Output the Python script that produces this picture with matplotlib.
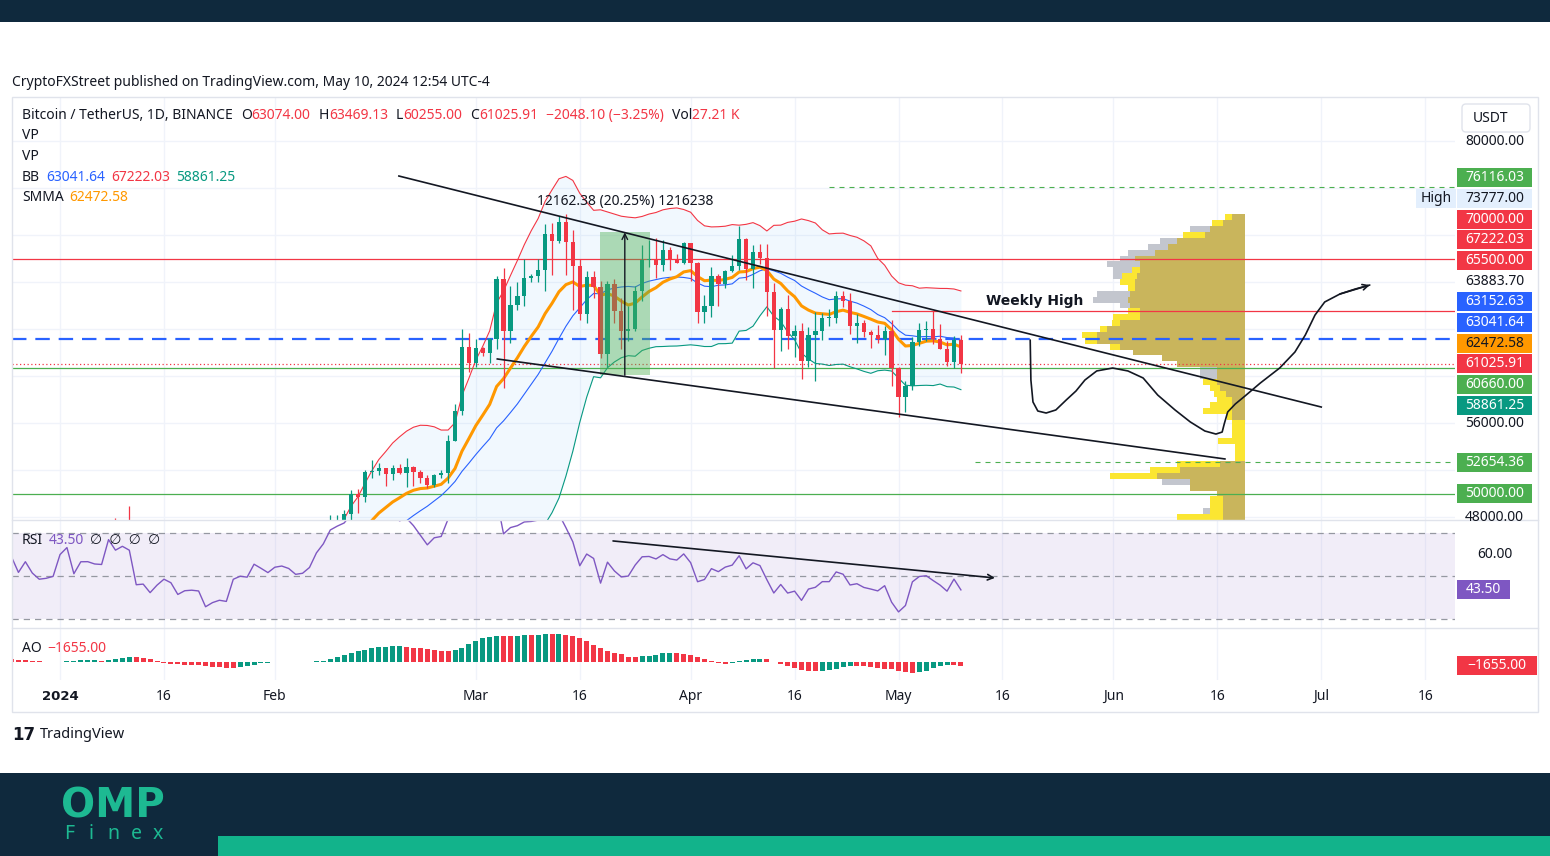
import numpy as np
import pandas as pd
import matplotlib
matplotlib.use("Agg")
import matplotlib.pyplot as plt
from matplotlib.patches import Rectangle, FancyBboxPatch

plt.rcParams['font.family'] = ['Noto Sans', 'DejaVu Sans']

W, H = 1550, 856

# --- daily BTC/USDT candles, starting 2023-12-01 ---
start_date = "2023-12-01"
opens = [
    37720, 38690, 39470, 39980, 41990, 44080, 43770, 43290, 44170, 43710, 43790, 41240, 41450, 42890, 43020, 41940,
    42260, 41370, 42660, 42270, 43650, 43860, 43990, 43720, 43010, 43580, 42510, 43440, 42580, 42070, 42140,
    42280, 44180, 44950, 42850, 44150, 44160, 43970, 43930, 46970, 46110, 46650, 46340, 42780, 42850, 41730, 42510,
    43150, 42740, 41260, 41620, 41670, 41580, 39550, 39890, 40080, 39940, 41820, 42120, 42030, 43300, 42950,
    42580, 43080, 43190, 43010, 42580, 42660, 43090, 44340, 45290, 47130, 47750, 48290, 49960, 49700, 51790,
    51910, 52130, 51640, 52140, 51780, 52260, 51850, 51300, 50730, 51570, 51730, 54480, 57040, 62430,
    61130, 62390, 61990, 63110, 68240, 63790, 66070, 66810, 68300, 68500, 69020, 72100, 71460, 73070, 71390, 69400,
    65300, 68390, 67550, 61910, 67850, 65500, 63800, 64040, 67210, 69880, 69990, 69450, 70740, 69890, 69650,
    71280, 69650, 65460, 65960, 68490, 67840, 68900, 69360, 71620, 69140, 70580, 70060, 67190, 63920, 65660,
    63420, 63790, 61280, 63470, 63820, 64940, 64940, 66840, 66410, 64280, 64500, 63770, 63460, 63120, 63840,
    60640, 58250, 59120, 62890, 63890, 64030, 63160, 62330, 61190, 63074,
]
highs = [
    38999, 39700, 40000, 42420, 44490, 44300, 44050, 44700, 44360, 44040, 43800, 42050, 43430, 43400, 43090, 42720,
    42430, 42760, 43500, 44280, 44240, 44400, 44020, 43950, 43800, 43600, 43680, 43800, 43130, 42900, 42900,
    44190, 45880, 45500, 44730, 44340, 44230, 44500, 47250, 47890, 47700, 48970, 46500, 43260, 43080, 43400, 43580,
    43200, 42930, 42200, 41870, 41890, 41690, 40130, 40560, 40300, 42210, 42200, 42840, 43310, 43880, 43740,
    43290, 43490, 43380, 43120, 43530, 43400, 44400, 45600, 48200, 48170, 48590, 50330, 50370, 52040, 52820,
    52580, 52180, 52390, 52490, 52990, 52370, 52000, 51550, 51680, 51960, 54940, 57580, 64000, 63680,
    63170, 62430, 63230, 68500, 69170, 67640, 68030, 69990, 68700, 69990, 72900, 73000, 73650, 73777, 72420, 70000,
    68920, 68920, 68100, 68100, 68240, 66650, 65980, 67620, 71150, 71560, 71770, 71550, 70950, 70350, 71370,
    71290, 69680, 66900, 69290, 68720, 69000, 70330, 72800, 71760, 71170, 71260, 71230, 67940, 65840, 66870,
    64360, 64490, 64130, 65450, 65390, 65700, 67230, 67200, 67080, 65280, 64790, 63920, 64350, 64230, 64740,
    60780, 59600, 63330, 64500, 64650, 65500, 64390, 62990, 63400, 63469.13,
]
lows = [
    37630, 38650, 39290, 39980, 41420, 43340, 42820, 43080, 43580, 43550, 40220, 40680, 40600, 41420, 41660, 41680,
    41250, 40530, 41800, 42180, 43330, 43400, 43580, 42750, 42720, 41620, 42100, 42300, 41300, 41520, 41970,
    42180, 44150, 40750, 42620, 42630, 43500, 43590, 43180, 44300, 44500, 45600, 41500, 42440, 41720, 41720, 42050,
    42200, 40680, 40280, 41450, 41500, 39430, 38560, 39490, 39260, 39820, 41390, 41620, 41800, 42690, 42280,
    41880, 42580, 42870, 42220, 42260, 42580, 42780, 44330, 45240, 46800, 47560, 47720, 48300, 49270, 51330,
    51580, 50620, 51170, 51680, 50520, 50630, 50930, 50500, 50580, 51280, 50900, 54450, 56690, 60360,
    60780, 61660, 61110, 62300, 59000, 62800, 65600, 66000, 68030, 68030, 67200, 68620, 71330, 68560, 65630, 64780,
    64520, 66600, 61500, 60780, 64530, 62260, 63000, 63800, 66380, 69250, 68380, 68900, 69000, 69580, 69560,
    68060, 64540, 64490, 65060, 66000, 67450, 68860, 69040, 68210, 67520, 69560, 65090, 60660, 62130, 62300,
    61620, 59770, 60800, 59600, 63090, 64240, 64500, 65850, 63600, 62790, 63320, 62390, 62800, 61800, 59190,
    56550, 56940, 58810, 62580, 62950, 62700, 62280, 60890, 60650, 60255,
]
closes = [
    38690, 39470, 39980, 41990, 44080, 43770, 43290, 44170, 43710, 43790, 41240, 41450, 42890, 43020, 41940, 42260,
    41370, 42660, 42270, 43650, 43860, 43990, 43720, 43010, 43580, 42510, 43440, 42580, 42070, 42140, 42280,
    44180, 44950, 42850, 44150, 44160, 43970, 43930, 46970, 46110, 46650, 46340, 42780, 42850, 41730, 42510, 43150,
    42740, 41260, 41620, 41670, 41580, 39550, 39890, 40080, 39940, 41820, 42120, 42030, 43300, 42950, 42580,
    43080, 43190, 43010, 42580, 42660, 43090, 44340, 45290, 47130, 47750, 48290, 49960, 49700, 51790, 51910,
    52130, 51640, 52140, 51780, 52260, 51850, 51300, 50730, 51570, 51730, 54480, 57040, 62430, 61130,
    62390, 61990, 63110, 68240, 63790, 66070, 66810, 68300, 68500, 69020, 72100, 71460, 73070, 71390, 69400, 65300,
    68390, 67550, 61910, 67850, 65500, 63800, 64040, 67210, 69880, 69990, 69450, 70740, 69890, 69650, 71280,
    69650, 65460, 65960, 68490, 67840, 68900, 69360, 71620, 69140, 70580, 70060, 67190, 63920, 65660, 63420,
    63790, 61280, 63470, 63820, 64940, 64940, 66840, 66410, 64280, 64500, 63770, 63460, 63120, 63840, 60640,
    58250, 59120, 62890, 63890, 64030, 63160, 62330, 61190, 63070, 61025.91,
]

# --- scales / ticks ---
price_ticks = [48000, 52000, 56000, 60000, 64000, 68000, 72000, 76000, 80000]
date_ticks = ["2024-01-01", "2024-01-16", "2024-02-01", "2024-03-01", "2024-03-16", "2024-04-01", "2024-04-16",
              "2024-05-01", "2024-05-16", "2024-06-01", "2024-06-16", "2024-07-01", "2024-07-16"]
date_labels = ["2024", "16", "Feb", "Mar", "16", "Apr", "16", "May", "16", "Jun", "16", "Jul", "16"]

# --- volume profile rows (row bottom price, relative volumes) ---
vp_prices = [47750, 48250, 48750, 49250, 49750, 50250, 50750, 51250, 51750, 52250, 52750, 53250, 53750,
             54250, 54750, 55250, 55750, 56250, 56750, 57250, 57750, 58250, 58750, 59250, 59750, 60250,
             60750, 61250, 61750, 62250, 62750, 63250, 63750, 64250, 64750, 65250, 65750, 66250, 66750,
             67250, 67750, 68250, 68750, 69250, 69750, 70250, 70750, 71250, 71750, 72250, 72750, 73250]
vp_gray = [22, 42, 22, 22, 28, 55, 83, 83, 65, 25, 0, 0, 0, 0, 0, 0, 0, 13, 13, 13, 13, 19, 25, 28,
           45, 45, 68, 83, 112, 125, 148, 148, 138, 125, 105, 105, 125, 152, 148, 110,
           110, 132, 132, 138, 125, 117, 97, 85, 55, 55, 22, 13]
vp_yellow = [68, 35, 35, 35, 28, 55, 55, 135, 95, 68, 10, 10, 10, 27, 13, 13, 13, 18, 42, 35, 28, 31, 35, 42,
             28, 28, 68, 83, 112, 135, 160, 163, 145, 133, 132, 117, 115, 117, 115, 117,
             125, 123, 113, 105, 110, 90, 77, 68, 62, 35, 33, 20]
vp_olive = [22, 22, 22, 22, 28, 55, 55, 88, 65, 25, 0, 0, 0, 0, 0, 0, 0, 13, 13, 13, 13, 19, 25, 28,
            28, 28, 68, 83, 112, 125, 148, 148, 138, 125, 105, 105, 115, 117, 115, 110,
            110, 108, 105, 105, 110, 90, 77, 68, 40, 35, 22, 13]
vp_anchor_date = "2024-06-20"

# --- drawings (days from 2024-01-01, price) ---
upper_line = ([48.9, 182.0], [77020, 57360])
lower_line = ([63.1, 168.1], [61450, 52940])
rsi_line = ([79.8, 134.9], [66.3, 49.1])
measure_days = [77.9, 85.1, 81.5]
measure_prices = [60060, 72222.38]
proj_days = [140.0, 140.1, 140.4, 141.1, 142.3, 143.7, 145.2, 146.6, 147.9, 149.6, 151.9, 154.1, 156.3, 158.4,
             160.9, 163.1, 165.2, 166.8, 167.7, 168.0, 168.5, 169.6, 171.0, 173.2, 176.0, 178.2, 179.7,
             181.1, 182.5, 184.7, 186.9, 189.0]
proj_prices = [63060, 59660, 57790, 57020, 56850, 57110, 57960, 58720, 59660, 60430, 60680, 60430, 59830, 58380,
               57110, 56090, 55320, 55060, 55230, 55920, 56940, 57620, 58300, 59400, 60680, 62040, 63490,
               65190, 66300, 66980, 67400, 67740]
weekly_high = 65500
weekly_high_start = "2024-04-30"

RED, GREEN, BLUE, TEAL, ORANGE, PURPLE = '#f23645', '#4caf50', '#2962ff', '#089981', '#ff9800', '#7e57c2'
DARK = '#131722'
GRID = '#f0f3fa'

# level lines: price, color, style, start date (None = whole chart)
levels = [
    (70000, RED, '-', None),
    (weekly_high, RED, '-', weekly_high_start),
    (63152.63, BLUE, 'dash', None),
    (61025.91, RED, 'dot', None),
    (60660, GREEN, '-', None),
    (76116.03, GREEN, 'thin', "2024-04-21"),
    (52654.36, GREEN, 'thin', "2024-05-12"),
    (50000, GREEN, '-', None),
]

# --- indicators from the candles ---
jan1 = pd.Timestamp("2024-01-01")
dates = pd.date_range(start_date, periods=len(closes), freq="D")
days = (dates - jan1).days.to_numpy().astype(float)
o, h, l, c = map(np.array, (opens, highs, lows, closes))
cs = pd.Series(c)
bb_mid = cs.rolling(20).mean()
bb_sd = cs.rolling(20).std(ddof=0)
bb_up, bb_lo = bb_mid + 2 * bb_sd, bb_mid - 2 * bb_sd
smma = np.full(len(c), np.nan)
smma[6] = c[:7].mean()
for i in range(7, len(c)):
    smma[i] = (smma[i - 1] * 6 + c[i]) / 7
delta = cs.diff().fillna(0)
avg_g = delta.clip(lower=0).ewm(alpha=1 / 14, adjust=False).mean()
avg_l = (-delta.clip(upper=0)).ewm(alpha=1 / 14, adjust=False).mean()
rsi = 100 - 100 / (1 + avg_g / avg_l)
hl2 = pd.Series((h + l) / 2)
ao = (hl2.rolling(5, min_periods=1).mean() - hl2.rolling(34, min_periods=1).mean()).to_numpy()

tick_days = (pd.to_datetime(date_ticks) - jan1).days.to_numpy()

# --- figure ---
fig = plt.figure(figsize=(W / 100, H / 100), dpi=100)


def px_rect(x0, y0, x1, y1):
    return [x0 / W, 1 - y1 / H, (x1 - x0) / W, (y1 - y0) / H]


ax = fig.add_axes(px_rect(12, 97, 1455, 520))
ax_rsi = fig.add_axes(px_rect(12, 520, 1455, 628))
ax_ao = fig.add_axes(px_rect(12, 628, 1455, 680))
x_view = (-6.93, 201.3)
for a in (ax, ax_rsi, ax_ao):
    a.set_xlim(*x_view)
    a.set_xticks([])
    a.set_yticks([])
    for s in a.spines.values():
        s.set_visible(False)
    for d in tick_days:
        a.axvline(d, color=GRID, lw=1, zorder=0)
ax.set_ylim(47745, 83745)
ax_rsi.set_ylim(25.8, 76.05)
ax_ao.set_ylim(-8130, 15370)

for p in price_ticks:
    ax.axhline(p, color=GRID, lw=1, zorder=0)

# bollinger fill
ax.fill_between(days, bb_lo, bb_up, color='#2196f3', alpha=0.06, lw=0, zorder=1)

# volume profile
px_per_day = ax.transData.transform((1, 0))[0] - ax.transData.transform((0, 0))[0]
vp_anchor = (pd.Timestamp(vp_anchor_date) - jan1).days
for vals, col in ((vp_gray, '#c3c6ce'), (vp_yellow, '#fbe632'), (vp_olive, '#c9b55c')):
    ax.barh(vp_prices, -np.array(vals, float) / px_per_day, left=vp_anchor, height=500,
            align='edge', color=col, lw=0, zorder=1.5)

for price, col, style, start in levels:
    x0 = x_view[0] if start is None else (pd.Timestamp(start) - jan1).days
    kw = dict(color=col, zorder=2)
    if style == 'dash':
        kw.update(lw=1.6, linestyle=(0, (6.5, 4)))
    elif style == 'dot':
        kw.update(lw=0.9, linestyle=(0, (1, 2)))
    elif style == 'thin':
        kw.update(lw=0.8, linestyle=(0, (4.5, 4.5)))
    else:
        kw.update(lw=0.9)
    ax.plot([x0, x_view[1]], [price, price], **kw)

ax.plot(days, bb_up, color=RED, lw=0.8, zorder=3)
ax.plot(days, bb_lo, color=TEAL, lw=0.8, zorder=3)
ax.plot(days, bb_mid, color=BLUE, lw=0.8, zorder=3)
ax.plot(days, smma, color=ORANGE, lw=2.2, zorder=3.2)

# candles
up = c >= o
ccol = np.where(up, TEAL, RED)
ax.vlines(days, l, h, colors=ccol, lw=0.9, zorder=4)
ax.bar(days, np.maximum(np.abs(c - o), 40), bottom=np.minimum(o, c), width=0.62, color=ccol, lw=0, zorder=4.1)

# measurement box
ax.add_patch(Rectangle((measure_days[0], measure_prices[0]), measure_days[1] - measure_days[0],
                       measure_prices[1] - measure_prices[0], fc=GREEN, alpha=0.42, lw=0, zorder=4.5))
ax.annotate('', xy=(measure_days[2], measure_prices[1]), xytext=(measure_days[2], measure_prices[0]),
            arrowprops=dict(arrowstyle='->', color=DARK, lw=1, shrinkA=0, shrinkB=0), zorder=5)
ax.text(measure_days[2], measure_prices[1] + 2590, "12162.38 (20.25%) 1216238", ha='center', va='center',
        fontsize=10, color=DARK, zorder=6)

# trend lines and projection
ax.plot(*upper_line, color=DARK, lw=1.2, zorder=5)
ax.plot(*lower_line, color=DARK, lw=1.2, zorder=5)
ax.plot(proj_days, proj_prices, color=DARK, lw=1.2, zorder=5, solid_capstyle='round')
ax.annotate('', xy=(proj_days[-1], proj_prices[-1]), xytext=(proj_days[-3], proj_prices[-3]),
            arrowprops=dict(arrowstyle='->', color=DARK, lw=1.2, shrinkA=0, shrinkB=0), zorder=5)
wh_day = (pd.Timestamp(weekly_high_start) - jan1).days
ax.text(wh_day + 20.6, weekly_high + 880, "Weekly High", ha='center', va='center', fontsize=10,
        fontweight='bold', color=DARK, zorder=6, family=['DejaVu Sans'])

# RSI pane
ax_rsi.axhspan(30, 70, color=PURPLE, alpha=0.1, lw=0, zorder=0.5)
for lvl in (70, 50, 30):
    ax_rsi.axhline(lvl, color='#9598a1', lw=0.9, linestyle=(0, (5, 4)), zorder=1)
ax_rsi.plot(days, rsi, color=PURPLE, lw=1, zorder=3)
ax_rsi.annotate('', xy=(rsi_line[0][1], rsi_line[1][1]), xytext=(rsi_line[0][0], rsi_line[1][0]),
                arrowprops=dict(arrowstyle='->', color=DARK, lw=1.2, shrinkA=0, shrinkB=0), zorder=4)

# AO pane
ao_col = [TEAL] + [TEAL if ao[i] >= ao[i - 1] else RED for i in range(1, len(ao))]
ax_ao.bar(days, ao, width=0.72, color=ao_col, lw=0, zorder=3)

# --- overlay for page decoration, scales and legends ---
lay = fig.add_axes([0, 0, 1, 1], zorder=10)
lay.set_xlim(0, W)
lay.set_ylim(H, 0)
lay.axis('off')
lay.patch.set_alpha(0)
renderer = fig.canvas.get_renderer()

NAVY = '#0f293d'
lay.add_patch(Rectangle((0, 0), W, 22, fc=NAVY, lw=0))
lay.add_patch(Rectangle((0, 773), W, H - 773, fc=NAVY, lw=0))
lay.add_patch(Rectangle((218, 836), W - 218, 20, fc='#12b38b', lw=0))
lay.text(61, 806, "OMP", fontsize=29, fontweight='heavy', color='#1db992', va='center', ha='left',
         family=['DejaVu Sans'])
for k, ch in enumerate("Finex"):
    lay.text(69 + k * 22.3, 834, ch, fontsize=14, color='#1db992', va='center', ha='center')

lay.add_patch(Rectangle((12, 97), 1526, 615, fc='none', ec='#e0e3eb', lw=1))
for yy in (520, 628):
    lay.plot([12, 1538], [yy, yy], color='#e0e3eb', lw=1)

lay.text(12, 82, "CryptoFXStreet published on TradingView.com, May 10, 2024 12:54 UTC-4", fontsize=10,
         color=DARK, va='center', ha='left')
lay.text(12, 735, "17", fontsize=12, fontweight='heavy', color=DARK, va='center', ha='left', family=['DejaVu Sans'])
lay.text(40, 735, "TradingView", fontsize=10.5, color=DARK, va='center', ha='left')


def multicolor(x, y, parts, size=10):
    for s, col, gap in parts:
        t = lay.text(x, y, s, color=col, fontsize=size, va='center', ha='left')
        x += t.get_window_extent(renderer).width + gap
    return x


multicolor(22, 115, [("Bitcoin / TetherUS, 1D, BINANCE", DARK, 8), ("O", DARK, 0), ("63074.00", RED, 8),
                     ("H", DARK, 0), ("63469.13", RED, 8), ("L", DARK, 0), ("60255.00", RED, 8),
                     ("C", DARK, 0), ("61025.91", RED, 8), ("\u22122048.10 (\u22123.25%)", RED, 8),
                     ("Vol", DARK, 0), ("27.21 K", RED, 0)])
multicolor(22, 135, [("VP", DARK, 0)])
multicolor(22, 156, [("VP", DARK, 0)])
multicolor(22, 177, [("BB", DARK, 6), ("63041.64", BLUE, 6), ("67222.03", RED, 6), ("58861.25", TEAL, 0)])
multicolor(22, 197, [("SMMA", DARK, 6), ("62472.58", ORANGE, 0)])
multicolor(22, 540, [("RSI", DARK, 6), ("43.50", PURPLE, 6), ("\u2205  \u2205  \u2205  \u2205", DARK, 0)])
multicolor(22, 648, [("AO", DARK, 6), ("\u22121655.00", RED, 0)])

# time axis labels
for d, lab in zip(tick_days, date_labels):
    xp = ax.transData.transform((d, 0))[0]
    if lab == "2024":
        lay.text(xp, 696, lab, fontsize=9.5, color=DARK, ha='center', va='center', fontweight='bold',
                 family=['DejaVu Sans'])
    else:
        lay.text(xp, 696, lab, fontsize=10, color=DARK, ha='center', va='center')


def to_px(axis, v):
    return H - axis.transData.transform((0, v))[1]


# price scale badges, stacked around the last price like the platform does
badges = [
    (76116.03, GREEN, 'white'), (73777.00, '#e3effd', DARK), (70000.00, RED, 'white'),
    (67222.03, RED, 'white'), (65500.00, RED, 'white'), (63883.70, None, DARK),
    (63152.63, BLUE, 'white'), (63041.64, BLUE, 'white'), (62472.58, ORANGE, DARK),
    (61025.91, RED, 'white'), (60660.00, GREEN, 'white'), (58861.25, TEAL, 'white'),
    (52654.36, GREEN, 'white'), (50000.00, GREEN, 'white'),
]
step = 20.7
last = 61025.91
ys = {}
ys[last] = to_px(ax, last)
prev = ys[last]
for p, _, _ in sorted([b for b in badges if b[0] > last], key=lambda b: b[0]):
    prev = min(to_px(ax, p), prev - step)
    ys[p] = prev
prev = ys[last]
for p, _, _ in sorted([b for b in badges if b[0] < last], key=lambda b: -b[0]):
    prev = max(to_px(ax, p), prev + step)
    ys[p] = prev

clip = Rectangle((1455, 97), 83, 423, transform=lay.transData)
for p in price_ticks:
    yp = to_px(ax, p)
    if min(abs(yp - v) for v in ys.values()) > 12:
        t = lay.text(1494.5, yp, f"{p:.2f}", fontsize=10, color=DARK, ha='center', va='center')
        t.set_clip_path(clip)

for p, fc, tc in badges:
    yp = ys[p]
    if fc is not None:
        lay.add_patch(Rectangle((1457, yp - 9.5), 75, 19, fc=fc, lw=0))
    lay.text(1494.5, yp, f"{p:.2f}", fontsize=10, color=tc, ha='center', va='center')
lay.add_patch(Rectangle((1416, ys[73777.00] - 9.5), 40, 19, fc='#e3effd', lw=0))
lay.text(1436, ys[73777.00], "High", fontsize=10, color=DARK, ha='center', va='center')

lay.add_patch(FancyBboxPatch((1462, 104), 68, 28, boxstyle='round,pad=0,rounding_size=4',
                             fc='white', ec='#e0e3eb', lw=1))
lay.text(1490, 118, "USDT", fontsize=10, color=DARK, ha='center', va='center')

# RSI scale (40.00 sits under the value badge)
lay.text(1494.5, to_px(ax_rsi, 60), "60.00", fontsize=10, color=DARK, ha='center', va='center')
ry = to_px(ax_rsi, rsi.iloc[-1])
lay.add_patch(Rectangle((1457, ry - 9.5), 53, 19, fc=PURPLE, lw=0))
lay.text(1483.5, ry, "43.50", fontsize=10, color='white', ha='center', va='center')

# AO scale
ay = to_px(ax_ao, ao[-1])
lay.add_patch(Rectangle((1457, ay - 9.5), 80, 19, fc=RED, lw=0))
lay.text(1497, ay, "\u22121655.00", fontsize=10, color='white', ha='center', va='center')

fig.savefig("out.png", dpi=100, facecolor='white')
